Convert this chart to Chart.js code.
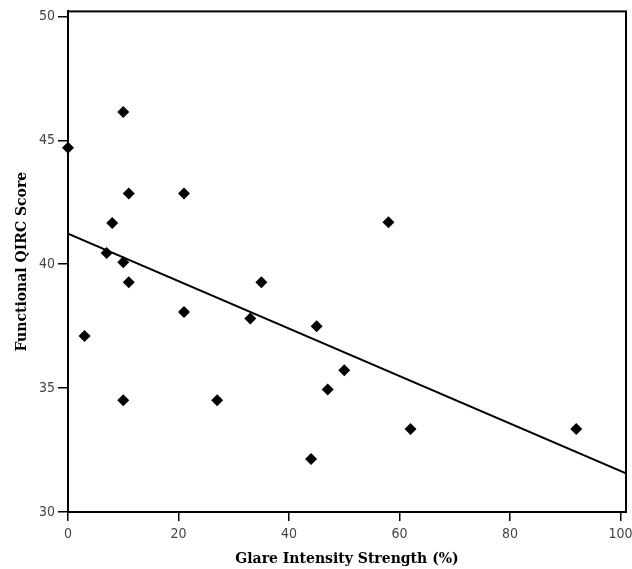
<!DOCTYPE html>
<html>
<head>
<meta charset="utf-8">
<script src="https://cdn.jsdelivr.net/npm/chart.js@4.4.1/dist/chart.umd.min.js"></script>
<style>
  html, body { margin: 0; padding: 0; background: #fff; }
  #wrap { width: 632px; height: 569px; position: relative; }
</style>
</head>
<body>
<div id="wrap"><canvas id="chart"></canvas></div>
<script>
// ── Data ────────────────────────────────────────────────────
const glare = [0, 10, 11, 21, 8, 7, 10, 11, 21, 3, 10, 27, 35, 33, 45, 50, 47, 44, 62, 92, 58];
const qirc  = [44.70, 46.14, 42.85, 42.85, 41.66, 40.45, 40.08, 39.27, 38.07, 37.10, 34.51,
               34.51, 39.27, 37.81, 37.50, 35.72, 34.94, 32.14, 33.35, 33.35, 41.69];
const xTicks = [0, 20, 40, 60, 80, 100];
const yTicks = [30, 35, 40, 45, 50];

const X_MIN = 0, X_MAX = 101;
const Y_MIN = 30, Y_MAX = 50.2;

// ── Least squares fit line ──────────────────────────────────
function linearFit(xs, ys) {
    const n = xs.length;
    const mx = xs.reduce((a, b) => a + b, 0) / n;
    const my = ys.reduce((a, b) => a + b, 0) / n;
    let sxy = 0, sxx = 0;
    for (let i = 0; i < n; i++) {
        sxy += (xs[i] - mx) * (ys[i] - my);
        sxx += (xs[i] - mx) * (xs[i] - mx);
    }
    const slope = sxy / sxx;
    return { slope, intercept: my - slope * mx };
}
const fit = linearFit(glare, qirc);
const fitLine = [X_MIN, X_MAX].map(x => ({ x, y: fit.intercept + fit.slope * x }));

// ── Frame around the plot area ──────────────────────────────
const framePlugin = {
    id: 'frame',
    afterDatasetsDraw(chart) {
        const { ctx, chartArea: a } = chart;
        ctx.save();
        ctx.strokeStyle = '#000';
        ctx.lineWidth = 2;
        ctx.strokeRect(a.left, a.top, a.right - a.left, a.bottom - a.top);
        ctx.restore();
    }
};

const tickFont = { family: "'Liberation Sans Narrow', 'DejaVu Sans Condensed', sans-serif", size: 14 };
const titleFont = { family: "'DejaVu Serif', serif", size: 14, weight: 'bold' };

new Chart(document.getElementById('chart'), {
    type: 'scatter',
    data: {
        datasets: [
            {
                data: glare.map((x, i) => ({ x, y: qirc[i] })),
                pointStyle: 'rectRot',
                pointRadius: 6,
                pointBackgroundColor: '#000',
                pointBorderColor: '#000',
                pointBorderWidth: 0,
                clip: false,
            },
            {
                type: 'line',
                data: fitLine,
                borderColor: '#000',
                borderWidth: 2,
                pointRadius: 0,
                fill: false,
            },
        ],
    },
    options: {
        responsive: true,
        maintainAspectRatio: false,
        animation: false,
        layout: { padding: { top: 10, right: 5, left: 0, bottom: 0 } },
        plugins: {
            legend: { display: false },
            tooltip: { enabled: false },
        },
        scales: {
            x: {
                type: 'linear',
                min: X_MIN,
                max: X_MAX,
                afterBuildTicks: s => { s.ticks = xTicks.map(v => ({ value: v })); },
                afterFit: s => { s.height = 57; s.paddingLeft = 0; s.paddingRight = 0; },
                grid: { drawOnChartArea: false, drawTicks: true, tickLength: 9, color: '#000', lineWidth: 1.5 },
                border: { display: true, color: '#000', width: 2 },
                ticks: { color: '#444', font: tickFont, padding: 5, maxRotation: 0 },
                title: { display: true, text: 'Glare Intensity Strength (%)', color: '#000', font: titleFont, padding: { top: 0, bottom: 1 } },
            },
            y: {
                type: 'linear',
                min: Y_MIN,
                max: Y_MAX,
                afterBuildTicks: s => { s.ticks = yTicks.map(v => ({ value: v })); },
                afterFit: s => { s.width = 68; },
                grid: { drawOnChartArea: false, drawTicks: true, tickLength: 10, color: '#000', lineWidth: 1.5 },
                border: { display: true, color: '#000', width: 2 },
                ticks: { color: '#444', font: tickFont, padding: 3 },
                title: { display: true, text: 'Functional QIRC Score', color: '#000', font: titleFont, padding: { top: 14, bottom: 0 } },
            },
        },
    },
    plugins: [framePlugin],
});
</script>
</body>
</html>
